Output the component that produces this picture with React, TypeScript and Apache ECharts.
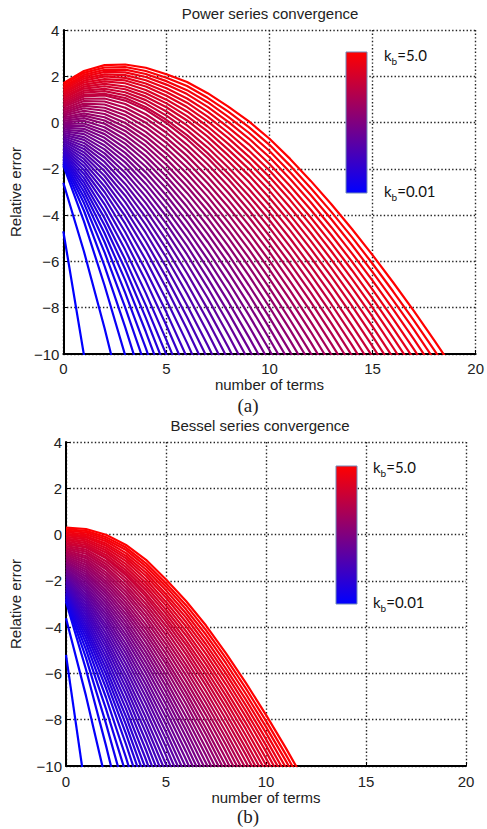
import React, { useEffect, useRef } from "react";
import * as echarts from "echarts";

// k_b value of every curve (colour runs blue -> red with k_b)
const kbValues = [
  0.01, 0.1, 0.2, 0.3, 0.4, 0.5, 0.6, 0.7, 0.8, 0.9, 1.0, 1.1, 1.2, 1.3, 1.4, 1.5, 1.6,
  1.7, 1.8, 1.9, 2.0, 2.1, 2.2, 2.3, 2.4, 2.5, 2.6, 2.7, 2.8, 2.9, 3.0, 3.1, 3.2, 3.3,
  3.4, 3.5, 3.6, 3.7, 3.8, 3.9, 4.0, 4.1, 4.2, 4.3, 4.4, 4.5, 4.6, 4.7, 4.8, 4.9, 5.0,
];
const termTicks = [0, 5, 10, 15, 20];
const errorTicks = [-10, -8, -6, -4, -2, 0, 2, 4];
const colorbarLabels = ["5.0", "0.01"];

// (a) Power series: relative error (log10) for number of terms 0,1,2,...
const powerErrors: number[][] = [
  [-4.7, -10.05, -15.8],
  [-2.6, -5.57, -8.89, -12.46],
  [-1.85, -4.27, -7.04, -10.06],
  [-1.78, -3.81, -6.2, -8.84, -11.67],
  [-1.7, -3.48, -5.61, -7.99, -10.57],
  [-1.63, -3.22, -5.16, -7.36, -9.75, -12.29],
  [-1.55, -2.99, -4.78, -6.81, -9.04, -11.43],
  [-1.48, -2.78, -4.44, -6.34, -8.44, -10.7],
  [-1.41, -2.59, -4.13, -5.92, -7.9, -10.04, -12.32],
  [-1.33, -2.4, -3.83, -5.5, -7.37, -9.4, -11.56],
  [-1.26, -2.22, -3.53, -5.1, -6.85, -8.77, -10.82],
  [-1.18, -2.05, -3.26, -4.73, -6.39, -8.2, -10.16],
  [-1.11, -1.88, -3.0, -4.37, -5.94, -7.67, -9.52, -11.5],
  [-1.04, -1.72, -2.76, -4.04, -5.52, -7.16, -8.93, -10.82],
  [-0.96, -1.57, -2.53, -3.74, -5.14, -6.7, -8.4, -10.21],
  [-0.89, -1.42, -2.31, -3.44, -4.77, -6.26, -7.89, -9.62, -11.46],
  [-0.81, -1.28, -2.1, -3.16, -4.42, -5.84, -7.4, -9.07, -10.84],
  [-0.74, -1.14, -1.9, -2.9, -4.1, -5.46, -6.95, -8.55, -10.26],
  [-0.67, -1.01, -1.7, -2.65, -3.78, -5.08, -6.51, -8.06, -9.71, -11.45],
  [-0.59, -0.88, -1.51, -2.4, -3.48, -4.72, -6.1, -7.58, -9.18, -10.86],
  [-0.52, -0.75, -1.33, -2.17, -3.2, -4.38, -5.7, -7.14, -8.68, -10.31],
  [-0.44, -0.63, -1.16, -1.94, -2.92, -4.06, -5.33, -6.72, -8.2, -9.78, -11.45],
  [-0.37, -0.5, -0.99, -1.72, -2.65, -3.74, -4.96, -6.3, -7.74, -9.27, -10.88],
  [-0.3, -0.38, -0.82, -1.51, -2.4, -3.44, -4.62, -5.91, -7.3, -8.79, -10.36],
  [-0.22, -0.27, -0.66, -1.31, -2.15, -3.15, -4.28, -5.53, -6.88, -8.32, -9.84, -11.45],
  [-0.15, -0.15, -0.5, -1.11, -1.91, -2.86, -3.95, -5.16, -6.47, -7.87, -9.35, -10.91],
  [-0.07, -0.04, -0.35, -0.91, -1.67, -2.59, -3.64, -4.81, -6.07, -7.43, -8.88, -10.4],
  [0, 0.08, -0.2, -0.73, -1.45, -2.33, -3.34, -4.47, -5.7, -7.03, -8.43, -9.91, -11.46],
  [0.07, 0.19, -0.05, -0.54, -1.22, -2.07, -3.04, -4.13, -5.33, -6.61, -7.98, -9.42, -10.93],
  [0.15, 0.3, 0.09, -0.36, -1.01, -1.82, -2.76, -3.81, -4.97, -6.22, -7.55, -8.96, -10.44],
  [0.22, 0.4, 0.23, -0.19, -0.8, -1.58, -2.49, -3.51, -4.63, -5.85, -7.15, -8.53, -9.97, -11.48],
  [0.3, 0.51, 0.37, -0.02, -0.6, -1.34, -2.21, -3.2, -4.3, -5.48, -6.75, -8.09, -9.5, -10.98],
  [0.37, 0.62, 0.51, 0.15, -0.4, -1.11, -1.95, -2.91, -3.97, -5.12, -6.35, -7.66, -9.04, -10.49],
  [0.44, 0.72, 0.64, 0.32, -0.2, -0.88, -1.69, -2.62, -3.65, -4.77, -5.98, -7.26, -8.61, -10.02, -11.5],
  [0.52, 0.82, 0.78, 0.48, -0.01, -0.66, -1.44, -2.34, -3.34, -4.43, -5.6, -6.86, -8.17, -9.56, -11.0],
  [0.59, 0.93, 0.91, 0.64, 0.18, -0.44, -1.19, -2.06, -3.03, -4.09, -5.24, -6.46, -7.75, -9.11, -10.52],
  [0.67, 1.03, 1.04, 0.8, 0.36, -0.23, -0.96, -1.8, -2.74, -3.78, -4.9, -6.09, -7.35, -8.68, -10.07],
  [0.74, 1.13, 1.17, 0.95, 0.55, -0.02, -0.72, -1.53, -2.45, -3.46, -4.55, -5.72, -6.96, -8.26, -9.62, -11.04],
  [0.81, 1.2, 1.24, 1.06, 0.66, 0.12, -0.54, -1.32, -2.2, -3.16, -4.22, -5.36, -6.57, -7.85, -9.18, -10.57],
  [0.89, 1.29, 1.36, 1.18, 0.82, 0.3, -0.33, -1.08, -1.94, -2.87, -3.89, -5.01, -6.2, -7.45, -8.76, -10.12],
  [0.96, 1.38, 1.46, 1.31, 0.97, 0.48, -0.12, -0.84, -1.67, -2.57, -3.57, -4.66, -5.82, -7.05, -8.33, -9.67, -11.07],
  [1.04, 1.47, 1.57, 1.44, 1.12, 0.66, 0.09, -0.61, -1.42, -2.28, -3.26, -4.32, -5.46, -6.66, -7.92, -9.24, -10.61],
  [1.11, 1.55, 1.67, 1.56, 1.27, 0.83, 0.28, -0.38, -1.17, -2.01, -2.95, -4.0, -5.11, -6.29, -7.53, -8.82, -10.17],
  [1.18, 1.64, 1.78, 1.7, 1.41, 0.99, 0.48, -0.17, -0.92, -1.73, -2.65, -3.67, -4.76, -5.92, -7.13, -8.4, -9.73, -11.1],
  [1.26, 1.73, 1.88, 1.82, 1.56, 1.16, 0.67, 0.05, -0.67, -1.47, -2.35, -3.35, -4.42, -5.56, -6.75, -8.0, -9.3, -10.65],
  [1.33, 1.81, 1.99, 1.93, 1.69, 1.32, 0.86, 0.26, -0.44, -1.21, -2.07, -3.05, -4.1, -5.21, -6.38, -7.61, -8.89, -10.22],
  [1.41, 1.9, 2.08, 2.05, 1.83, 1.48, 1.04, 0.47, -0.21, -0.94, -1.79, -2.74, -3.77, -4.86, -6.01, -7.22, -8.48, -9.79, -11.15],
  [1.48, 1.98, 2.19, 2.17, 1.97, 1.64, 1.23, 0.68, 0.03, -0.69, -1.5, -2.44, -3.44, -4.52, -5.65, -6.83, -8.07, -9.36, -10.69],
  [1.55, 2.06, 2.28, 2.29, 2.1, 1.79, 1.4, 0.88, 0.25, -0.44, -1.23, -2.15, -3.13, -4.18, -5.29, -6.46, -7.68, -8.94, -10.26],
  [1.63, 2.15, 2.38, 2.4, 2.23, 1.94, 1.58, 1.07, 0.47, -0.2, -0.96, -1.86, -2.83, -3.86, -4.95, -6.1, -7.3, -8.55, -9.84, -11.19],
  [1.7, 2.23, 2.48, 2.51, 2.37, 2.09, 1.75, 1.27, 0.69, 0.05, -0.7, -1.57, -2.52, -3.53, -4.6, -5.73, -6.91, -8.14, -9.42, -10.74],
];

// (b) Bessel series: relative error (log10) for number of terms 0,1,2,...
const besselErrors: number[][] = [
  [-5.2, -11.2],
  [-3.62, -6.97, -10.67],
  [-2.9, -5.83, -9.12, -12.65],
  [-2.83, -5.33, -8.17, -11.27],
  [-2.77, -4.97, -7.53, -10.34],
  [-2.7, -4.69, -7.04, -9.64, -12.43],
  [-2.63, -4.46, -6.63, -9.06, -11.68],
  [-2.57, -4.26, -6.31, -8.61, -11.1],
  [-2.5, -4.09, -6.03, -8.22, -10.61],
  [-2.43, -3.93, -5.78, -7.87, -10.16],
  [-2.37, -3.77, -5.53, -7.53, -9.73, -12.09],
  [-2.3, -3.62, -5.29, -7.21, -9.32, -11.6],
  [-2.23, -3.47, -5.06, -6.9, -8.94, -11.13],
  [-2.17, -3.33, -4.85, -6.62, -8.58, -10.7],
  [-2.1, -3.2, -4.65, -6.35, -8.25, -10.3],
  [-2.03, -3.07, -4.46, -6.1, -7.93, -9.92, -12.04],
  [-1.97, -2.94, -4.27, -5.84, -7.61, -9.54, -11.6],
  [-1.9, -2.82, -4.08, -5.6, -7.31, -9.19, -11.19],
  [-1.83, -2.7, -3.91, -5.37, -7.03, -8.85, -10.8],
  [-1.77, -2.58, -3.74, -5.15, -6.76, -8.53, -10.43],
  [-1.7, -2.46, -3.58, -4.94, -6.5, -8.22, -10.07],
  [-1.63, -2.35, -3.42, -4.74, -6.25, -7.92, -9.72, -11.64],
  [-1.57, -2.24, -3.26, -4.53, -6.0, -7.62, -9.38, -11.25],
  [-1.5, -2.13, -3.11, -4.34, -5.76, -7.34, -9.06, -10.89],
  [-1.43, -2.02, -2.96, -4.15, -5.53, -7.07, -8.75, -10.54],
  [-1.37, -1.92, -2.82, -3.97, -5.31, -6.81, -8.45, -10.2],
  [-1.3, -1.81, -2.67, -3.79, -5.09, -6.56, -8.16, -9.87, -11.69],
  [-1.23, -1.71, -2.53, -3.61, -4.88, -6.31, -7.87, -9.55, -11.33],
  [-1.17, -1.61, -2.4, -3.44, -4.67, -6.07, -7.59, -9.24, -10.98],
  [-1.1, -1.51, -2.26, -3.27, -4.47, -5.83, -7.32, -8.93, -10.64],
  [-1.03, -1.41, -2.13, -3.11, -4.28, -5.6, -7.06, -8.64, -10.32],
  [-0.97, -1.31, -2.01, -2.95, -4.09, -5.39, -6.82, -8.37, -10.01, -11.76],
  [-0.9, -1.21, -1.88, -2.79, -3.9, -5.17, -6.57, -8.08, -9.7, -11.41],
  [-0.83, -1.12, -1.75, -2.63, -3.71, -4.95, -6.32, -7.8, -9.39, -11.07],
  [-0.77, -1.02, -1.63, -2.48, -3.53, -4.74, -6.08, -7.54, -9.09, -10.75],
  [-0.7, -0.93, -1.5, -2.33, -3.35, -4.54, -5.85, -7.28, -8.81, -10.44],
  [-0.63, -0.83, -1.39, -2.19, -3.18, -4.34, -5.63, -7.03, -8.54, -10.13],
  [-0.57, -0.74, -1.27, -2.04, -3.01, -4.14, -5.4, -6.78, -8.26, -9.83, -11.49],
  [-0.5, -0.65, -1.15, -1.9, -2.84, -3.95, -5.18, -6.53, -7.99, -9.53, -11.16],
  [-0.43, -0.56, -1.03, -1.76, -2.68, -3.76, -4.97, -6.3, -7.73, -9.25, -10.86],
  [-0.37, -0.53, -0.98, -1.66, -2.55, -3.6, -4.76, -6.06, -7.47, -8.97, -10.55],
  [-0.3, -0.45, -0.88, -1.54, -2.39, -3.42, -4.57, -5.84, -7.22, -8.69, -10.25],
  [-0.23, -0.37, -0.77, -1.41, -2.24, -3.25, -4.36, -5.61, -6.97, -8.42, -9.96, -11.57],
  [-0.17, -0.29, -0.68, -1.28, -2.09, -3.07, -4.17, -5.39, -6.73, -8.16, -9.67, -11.26],
  [-0.1, -0.21, -0.58, -1.15, -1.94, -2.91, -3.97, -5.17, -6.48, -7.89, -9.38, -10.95],
  [-0.03, -0.13, -0.48, -1.03, -1.79, -2.73, -3.78, -4.95, -6.25, -7.64, -9.11, -10.65],
  [0.03, -0.07, -0.39, -0.92, -1.65, -2.58, -3.59, -4.75, -6.02, -7.39, -8.84, -10.37],
  [0.1, 0.01, -0.29, -0.8, -1.51, -2.41, -3.41, -4.54, -5.8, -7.14, -8.57, -10.08],
  [0.17, 0.09, -0.2, -0.67, -1.37, -2.25, -3.23, -4.33, -5.57, -6.9, -8.31, -9.79, -11.35],
  [0.23, 0.16, -0.11, -0.56, -1.24, -2.1, -3.05, -4.13, -5.35, -6.66, -8.05, -9.52, -11.05],
  [0.3, 0.24, -0.01, -0.45, -1.09, -1.94, -2.87, -3.93, -5.13, -6.42, -7.79, -9.24, -10.76],
];

const SANS = "'Liberation Sans', Arial, Helvetica, sans-serif";
const kMin = kbValues[0];
const kMax = kbValues[kbValues.length - 1];

function kbColor(k: number): string {
  const t = (k - kMin) / (kMax - kMin);
  const r = Math.round(255 * t);
  const b = Math.round(255 * (1 - t));
  return `rgb(${r},0,${b})`;
}

function tickText(v: number): string {
  return v < 0 ? "\u2212" + Math.abs(v) : String(v);
}

function makeSeries(curves: number[][], idx: number) {
  return curves.map((ys, j) => ({
    type: "line",
    name: `${idx === 0 ? "power" : "bessel"} kb=${kbValues[j]}`,
    xAxisIndex: idx,
    yAxisIndex: idx,
    data: ys.map((y, m) => [m, y]),
    symbol: "none",
    showSymbol: false,
    silent: true,
    clip: true,
    smooth: false,
    lineStyle: { width: 2.2, color: kbColor(kbValues[j]) },
    z: 2,
  }));
}

function xAxisCfg(gridIndex: number, nameGap: number, labelMargin: number) {
  return {
    gridIndex,
    type: "value",
    min: termTicks[0],
    max: termTicks[termTicks.length - 1],
    interval: termTicks[1] - termTicks[0],
    name: "number of terms",
    nameLocation: "middle",
    nameGap,
    nameTextStyle: { fontFamily: SANS, fontSize: 15, color: "#222" },
    axisLine: { show: true, onZero: false, lineStyle: { color: "#000", width: 2 } },
    axisTick: { show: true, inside: true, length: 4, lineStyle: { color: "#000", width: 1 } },
    axisLabel: { fontFamily: SANS, fontSize: 15, color: "#222", margin: labelMargin, formatter: tickText },
    splitLine: { show: true, lineStyle: { color: "#222", width: 1.4, type: [1.4, 2.2] } },
  };
}

function yAxisCfg(gridIndex: number, nameGap: number) {
  return {
    gridIndex,
    type: "value",
    min: errorTicks[0],
    max: errorTicks[errorTicks.length - 1],
    interval: errorTicks[1] - errorTicks[0],
    name: "Relative error",
    nameLocation: "middle",
    nameGap,
    nameTextStyle: { fontFamily: SANS, fontSize: 15, color: "#222" },
    axisLine: { show: true, onZero: false, lineStyle: { color: "#000", width: 2 } },
    axisTick: { show: true, inside: true, length: 4, lineStyle: { color: "#000", width: 1 } },
    axisLabel: { fontFamily: SANS, fontSize: 15, color: "#222", margin: 4, formatter: tickText },
    splitLine: { show: true, lineStyle: { color: "#222", width: 1.4, type: [1.4, 2.2] } },
  };
}

function kbLabel(x: number, y: number, value: string) {
  return {
    type: "text",
    x,
    y,
    z: 10,
    style: {
      text: `{k|k}{s|b}{k|=${value}}`,
      verticalAlign: "middle",
      align: "left",
      rich: {
        k: { fontFamily: "Lato, 'Open Sans', sans-serif", fontSize: 15, fill: "#111", color: "#111", lineHeight: 22, verticalAlign: "middle" },
        s: { fontFamily: "Lato, 'Open Sans', sans-serif", fontSize: 10, fill: "#111", color: "#111", lineHeight: 22, verticalAlign: "bottom" },
      },
    },
  };
}

function colorbar(x: number, y: number, w: number, h: number) {
  return {
    type: "rect",
    z: 10,
    shape: { x, y, width: w, height: h },
    style: {
      fill: new echarts.graphic.LinearGradient(0, 0, 0, 1, [
        { offset: 0, color: kbColor(kMax) },
        { offset: 1, color: kbColor(kMin) },
      ]),
      stroke: "#7088b8",
      lineWidth: 1,
    },
  };
}

function titleText(x: number, y: number, text: string, serif = false) {
  return {
    type: "text",
    x,
    y,
    z: 10,
    style: {
      text,
      align: "center",
      verticalAlign: "middle",
      fontFamily: serif ? "'Liberation Serif', 'Times New Roman', serif" : SANS,
      fontSize: serif ? 19 : 15,
      fill: "#222",
    },
  };
}

export default function App() {
  const ref = useRef<HTMLDivElement>(null);

  useEffect(() => {
    if (!ref.current) return;
    const chart = echarts.init(ref.current, null, { renderer: "svg" });
    const option = {
      animation: false,
      backgroundColor: "#ffffff",
      grid: [
        { left: 61, top: 30, width: 418, height: 324, containLabel: false },
        { left: 54, top: 442, width: 412, height: 324, containLabel: false },
      ],
      xAxis: [xAxisCfg(0, 23, 7), xAxisCfg(1, 23, 8)],
      yAxis: [yAxisCfg(0, 34), yAxisCfg(1, 43)],
      series: [...makeSeries(powerErrors, 0), ...makeSeries(besselErrors, 1)],
      graphic: [
        titleText(270, 13.5, "Power series convergence"),
        titleText(260, 425, "Bessel series convergence"),
        titleText(248, 405, "(a)", true),
        titleText(248, 816, "(b)", true),
        colorbar(346, 52, 21, 141),
        colorbar(336, 466, 21, 138),
        kbLabel(384, 55, colorbarLabels[0]),
        kbLabel(384, 191, colorbarLabels[1]),
        kbLabel(373, 467, colorbarLabels[0]),
        kbLabel(373, 602, colorbarLabels[1]),
      ],
    };
    chart.setOption(option as any);
    return () => chart.dispose();
  }, []);

  return (
    <div
      ref={ref}
      style={{ position: "absolute", left: 0, top: 0, width: 487, height: 829, background: "#fff" }}
    />
  );
}
